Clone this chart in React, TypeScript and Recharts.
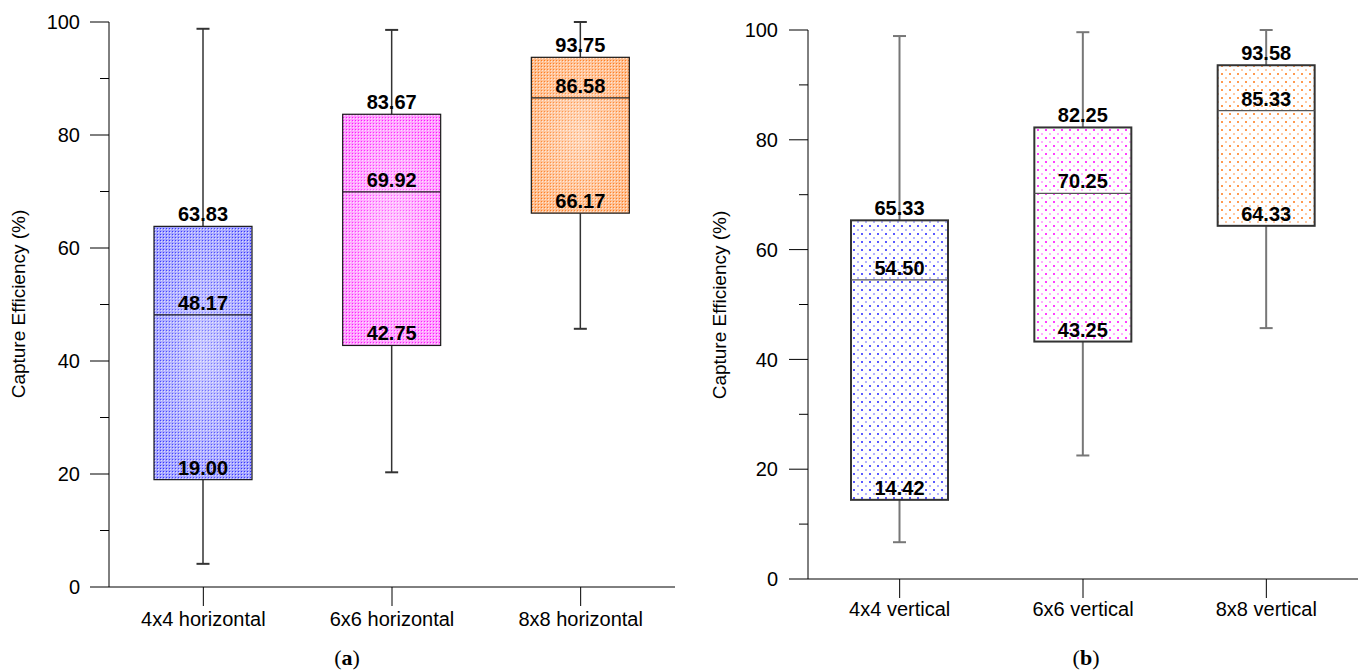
import React from 'react';
import { ComposedChart, Bar, XAxis, YAxis } from 'recharts';

// (a) horizontal arrangements
const categoriesA = ['4x4 horizontal', '6x6 horizontal', '8x8 horizontal'];
const minA = [4.1, 20.3, 45.7];
const q1A = [19.0, 42.75, 66.17];
const medA = [48.17, 69.92, 86.58];
const q3A = [63.83, 83.67, 93.75];
const maxA = [98.8, 98.6, 100];

// (b) vertical arrangements
const categoriesB = ['4x4 vertical', '6x6 vertical', '8x8 vertical'];
const minB = [6.7, 22.5, 45.7];
const q1B = [14.42, 43.25, 64.33];
const medB = [54.5, 70.25, 85.33];
const q3B = [65.33, 82.25, 93.58];
const maxB = [98.9, 99.6, 100];

const yTicks = [0, 10, 20, 30, 40, 50, 60, 70, 80, 90, 100];

const FONT = '"Liberation Sans", Arial, sans-serif';

const buildRows = (cats: string[], mn: number[], q1: number[], md: number[], q3: number[], mx: number[]) =>
  cats.map((name, i) => ({ name, range: [mn[i], mx[i]], min: mn[i], q1: q1[i], med: md[i], q3: q3[i], max: mx[i] }));

const dataA = buildRows(categoriesA, minA, q1A, medA, q3A, maxA);
const dataB = buildRows(categoriesB, minB, q1B, medB, q3B, maxB);

// base colour + dot texture for each box
const basesA = ['#a4a4ff', '#ff9cff', '#ffbc8c'];
const fillsA = ['url(#denseBlue)', 'url(#denseMagenta)', 'url(#denseOrange)'];
const basesB = ['#ffffff', '#ffffff', '#ffffff'];
const fillsB = ['url(#dotBlue)', 'url(#dotMagenta)', 'url(#dotOrange)'];

type BoxStyle = {
  bases: string[];
  fills: string[];
  boxStroke: string;
  boxStrokeWidth: number;
  whisker: string;
  whiskerWidth: number;
  median: string;
  glow: boolean;
};

const makeBox = (s: BoxStyle) => (props: any) => {
  const { x, y, width, height, payload, index } = props;
  const top = Math.min(y, y + height);
  const h = Math.abs(height);
  const span = payload.max - payload.min || 1;
  const py = (v: number) => top + ((payload.max - v) / span) * h;
  const cx = x + width / 2;
  const yMax = py(payload.max);
  const yMin = py(payload.min);
  const yQ1 = py(payload.q1);
  const yQ3 = py(payload.q3);
  const yMed = py(payload.med);
  const cap = 6.5;
  const bh = yQ1 - yQ3;
  const lbl = (v: number, yy: number) => (
    <text x={cx} y={yy - 5} textAnchor="middle" fontFamily={FONT} fontWeight="bold" fontSize={20} fill="#000">
      {v.toFixed(2)}
    </text>
  );
  return (
    <g>
      <line x1={cx} x2={cx} y1={yMax} y2={yQ3} stroke={s.whisker} strokeWidth={s.whiskerWidth} />
      <line x1={cx} x2={cx} y1={yQ1} y2={yMin} stroke={s.whisker} strokeWidth={s.whiskerWidth} />
      <line x1={cx - cap} x2={cx + cap} y1={yMax} y2={yMax} stroke={s.whisker} strokeWidth={2} />
      <line x1={cx - cap} x2={cx + cap} y1={yMin} y2={yMin} stroke={s.whisker} strokeWidth={2} />
      <rect x={x} y={yQ3} width={width} height={bh} fill={s.bases[index]} />
      <rect x={x} y={yQ3} width={width} height={bh} fill={s.fills[index]} />
      {s.glow && <rect x={x} y={yQ3} width={width} height={bh} fill="url(#glow)" />}
      <rect x={x} y={yQ3} width={width} height={bh} fill="none" stroke={s.boxStroke} strokeWidth={s.boxStrokeWidth} />
      <line x1={x} x2={x + width} y1={yMed} y2={yMed} stroke={s.median} strokeWidth={1.2} />
      {lbl(payload.q3, yQ3)}
      {lbl(payload.med, yMed)}
      {lbl(payload.q1, yQ1)}
    </g>
  );
};

const YTick = (props: any) => {
  const { x, y, payload, color, labelGap } = props;
  const v = payload.value;
  const major = v % 20 === 0;
  return (
    <g>
      <line x1={x - (major ? 19 : 9)} x2={x} y1={y} y2={y} stroke={color} strokeWidth={1} />
      {major && (
        <text x={x - 19 - labelGap} y={y} dy="0.36em" textAnchor="end" fontFamily={FONT} fontSize={20} fill="#000">
          {v}
        </text>
      )}
    </g>
  );
};

const XTick = (props: any) => {
  const { x, y, payload } = props;
  return (
    <text x={x} y={y} dy="0.71em" textAnchor="middle" fontFamily={FONT} fontSize={20} fill="#000">
      {payload.value}
    </text>
  );
};

type PanelProps = {
  data: any[];
  width: number;
  height: number;
  margin: { top: number; right: number; bottom: number; left: number };
  axisColor: string;
  frameColor: string;
  style: BoxStyle;
  barSize: number;
  labelGap: number;
  xTickMargin: number;
};

const Panel = ({ data, width, height, margin, axisColor, frameColor, style, barSize, labelGap, xTickMargin }: PanelProps) => (
  <ComposedChart width={width} height={height} data={data} margin={margin} barSize={barSize}>
    <XAxis
      dataKey="name"
      type="category"
      height={40}
      tickSize={19}
      tickMargin={xTickMargin}
      stroke={axisColor}
      tickLine={{ stroke: axisColor }}
      axisLine={{ stroke: axisColor }}
      tick={(p: any) => <XTick {...p} />}
      interval={0}
    />
    <XAxis xAxisId="top" orientation="top" dataKey="name" height={0} tick={false} tickLine={false} axisLine={{ stroke: frameColor }} />
    <YAxis
      yAxisId="left"
      type="number"
      domain={[0, 100]}
      ticks={yTicks}
      interval={0}
      width={108}
      tickSize={0}
      tickMargin={0}
      tickLine={false}
      axisLine={{ stroke: axisColor }}
      tick={(p: any) => <YTick {...p} color={axisColor} labelGap={labelGap} />}
    />
    <YAxis yAxisId="right" orientation="right" type="number" domain={[0, 100]} width={0} tick={false} tickLine={false} axisLine={{ stroke: frameColor }} />
    <Bar yAxisId="left" dataKey="range" shape={makeBox(style)} isAnimationActive={false} />
  </ComposedChart>
);

const Defs = () => (
  <svg width={0} height={0} style={{ position: 'absolute' }}>
    <defs>
      <pattern id="denseBlue" width={3} height={3} patternUnits="userSpaceOnUse">
        <rect width={1} height={1} fill="#3434ff" />
        <rect x={1} y={1} width={1} height={1} fill="#dcdcff" />
      </pattern>
      <pattern id="denseMagenta" width={3} height={3} patternUnits="userSpaceOnUse">
        <rect width={1} height={1} fill="#ff10ff" />
        <rect x={1} y={1} width={1} height={1} fill="#ffdcff" />
      </pattern>
      <pattern id="denseOrange" width={3} height={3} patternUnits="userSpaceOnUse">
        <rect width={1} height={1} fill="#ff7a1a" />
        <rect x={1} y={1} width={1} height={1} fill="#ffe6d4" />
      </pattern>
      <pattern id="dotBlue" width={8} height={8} patternUnits="userSpaceOnUse">
        <rect x={1} y={1} width={2} height={2} fill="#5a5aff" />
        <rect x={5} y={5} width={2} height={2} fill="#b4b4ff" />
      </pattern>
      <pattern id="dotMagenta" width={8} height={8} patternUnits="userSpaceOnUse">
        <rect x={1} y={1} width={2} height={2} fill="#ff40ff" />
        <rect x={5} y={5} width={2} height={2} fill="#ffb0ff" />
      </pattern>
      <pattern id="dotOrange" width={8} height={8} patternUnits="userSpaceOnUse">
        <rect x={1} y={1} width={2} height={2} fill="#ff9a50" />
        <rect x={5} y={5} width={2} height={2} fill="#ffcaa4" />
      </pattern>
      <radialGradient id="glow" cx="0.5" cy="0.5" r="0.6">
        <stop offset="0%" stopColor="#ffffff" stopOpacity={0.4} />
        <stop offset="100%" stopColor="#ffffff" stopOpacity={0} />
      </radialGradient>
    </defs>
  </svg>
);

const styleA: BoxStyle = {
  bases: basesA,
  fills: fillsA,
  boxStroke: '#1a1a1a',
  boxStrokeWidth: 1.2,
  whisker: '#333',
  whiskerWidth: 1.5,
  median: '#222',
  glow: true,
};

const styleB: BoxStyle = {
  bases: basesB,
  fills: fillsB,
  boxStroke: '#333',
  boxStrokeWidth: 2,
  whisker: '#777',
  whiskerWidth: 2,
  median: '#555',
  glow: false,
};

const axisTitle = (left: number, top: number): React.CSSProperties => ({
  position: 'absolute',
  left,
  top,
  transform: 'translate(-50%, -50%) rotate(-90deg)',
  whiteSpace: 'nowrap',
  fontFamily: FONT,
  fontSize: 19,
  color: '#000',
});

const caption = (left: number): React.CSSProperties => ({
  position: 'absolute',
  left,
  top: 658,
  transform: 'translate(-50%, -50%)',
  fontFamily: '"Liberation Serif", "DejaVu Serif", serif',
  fontSize: 22,
  color: '#000',
});

export default function App() {
  return (
    <div style={{ position: 'absolute', left: 0, top: 0, width: 1363, height: 672, background: '#fff', overflow: 'hidden' }}>
      <Defs />
      <div style={{ position: 'absolute', left: 1, top: 0 }}>
        <Panel
          data={dataA}
          width={700}
          height={640}
          margin={{ top: 22, right: 26, bottom: 13, left: 0 }}
          axisColor="#000"
          frameColor="#000"
          style={styleA}
          barSize={98}
          labelGap={10}
          xTickMargin={6}
        />
      </div>
      <div style={{ position: 'absolute', left: 700, top: 0 }}>
        <Panel
          data={dataB}
          width={663}
          height={640}
          margin={{ top: 30, right: 5, bottom: 21, left: 0 }}
          axisColor="#000"
          frameColor="#555"
          style={styleB}
          barSize={97}
          labelGap={11}
          xTickMargin={4}
        />
      </div>
      <div style={axisTitle(19, 304)}>Capture Efficiency (%)</div>
      <div style={axisTitle(720, 305)}>Capture Efficiency (%)</div>
      <div style={caption(347)}>(<b>a</b>)</div>
      <div style={caption(1086)}>(<b>b</b>)</div>
    </div>
  );
}
